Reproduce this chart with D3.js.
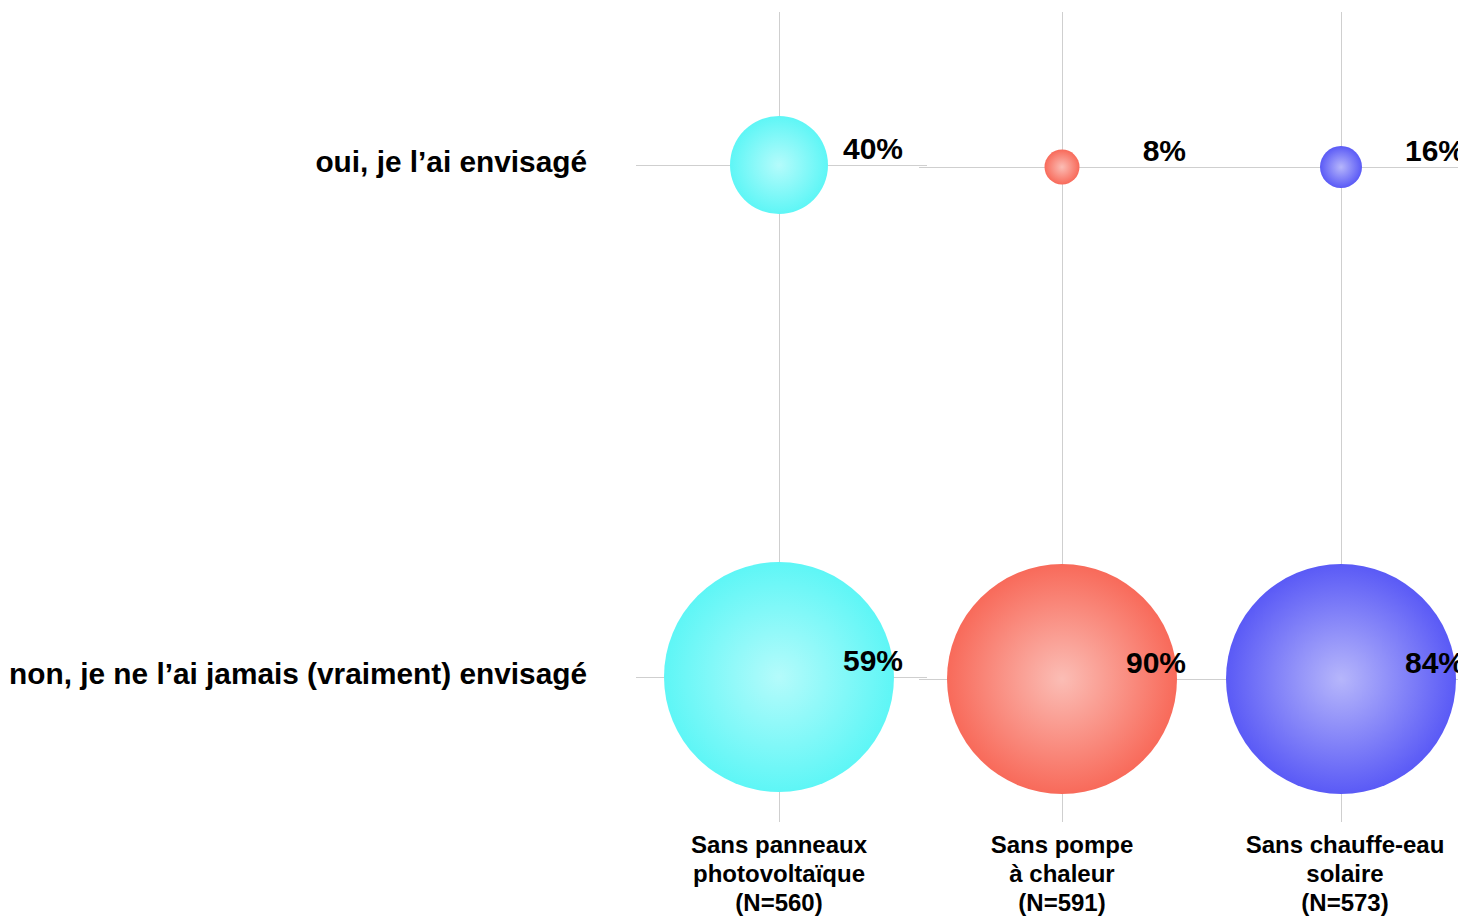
<!DOCTYPE html>
<html><head><meta charset="utf-8">
<script src="https://cdn.jsdelivr.net/npm/d3@7/dist/d3.min.js"></script>
<style>
html,body{margin:0;padding:0;background:#fff;overflow:hidden;}
svg{display:block;font-family:"Liberation Sans",Arial,sans-serif;}
</style></head><body>
<svg id="c" width="1458" height="916"></svg>
<script>
const categories = ["Sans panneaux|photovoltaïque|(N=560)", "Sans pompe|à chaleur|(N=591)", "Sans chauffe-eau|solaire|(N=573)"];
const rowLabels = ["oui, je l’ai envisagé", "non, je ne l’ai jamais (vraiment) envisagé"];
const ouiValues = [40, 8, 16];
const nonValues = [59, 90, 84];
const colors = ["#5ef6f6", "#f86a5a", "#5a5af6"];
const lightColors = ["#b4fbfb", "#fbbdb5", "#b6b6fb"];

const svg = d3.select("#c");
const x = d3.scaleOrdinal().domain(d3.range(categories.length)).range([779, 1062, 1341]);
const y = d3.scalePoint().domain(rowLabels).range([165, 677]);
const colShift = i => (i === 0 ? 0 : 2);
const labelShift = i => (i === 2 ? 4 : 0);
const r = d3.scaleLinear().domain([8, 16, 40, 59, 100]).range([17.5, 21, 49, 115, 115]).clamp(true);

const defs = svg.append("defs");
colors.forEach((c, i) => {
  const g = defs.append("radialGradient").attr("id", "g" + i).attr("cx", "50%").attr("cy", "50%").attr("r", "50%");
  g.append("stop").attr("offset", "0%").attr("stop-color", lightColors[i]);
  g.append("stop").attr("offset", "100%").attr("stop-color", c);
});

const grid = svg.append("g").attr("stroke", "#cfcfcf").attr("stroke-width", 1);
categories.forEach((c, i) => {
  const cx = Math.round(x(i)) + 0.5;
  grid.append("line").attr("x1", cx).attr("x2", cx).attr("y1", 12).attr("y2", 822);
  rowLabels.forEach(rl => {
    const yy = y(rl) + colShift(i) + 0.5;
    grid.append("line").attr("x1", x(i) - 143).attr("x2", x(i) + 148).attr("y1", yy).attr("y2", yy);
  });
});

// row labels
svg.append("g").selectAll("text").data(rowLabels).join("text")
  .attr("x", 587).attr("y", d => y(d) + 7)
  .attr("text-anchor", "end").attr("font-size", 29.8).attr("font-weight", "bold").attr("fill", "#000")
  .text(d => d);

const series = [ouiValues, nonValues];
series.forEach((vals, si) => {
  const rowY = y(rowLabels[si]);
  const g = svg.append("g");
  g.selectAll("circle").data(vals).join("circle")
    .attr("cx", (d, i) => x(i)).attr("cy", (d, i) => rowY + colShift(i))
    .attr("r", d => r(d)).attr("fill", (d, i) => `url(#g${i})`);
  g.selectAll("text").data(vals).join("text")
    .attr("x", (d, i) => x(i) + 124).attr("y", (d, i) => rowY + colShift(i) - 6)
    .attr("text-anchor", "end").attr("font-size", 30).attr("font-weight", "bold").attr("fill", "#000")
    .text(d => d + "%");
});

// category labels
const cl = svg.append("g");
categories.forEach((c, i) => {
  const t = cl.append("text").attr("text-anchor", "middle").attr("font-size", 24).attr("font-weight", "bold").attr("fill", "#000");
  c.split("|").forEach((line, li) => {
    t.append("tspan").attr("x", x(i) + labelShift(i)).attr("y", 853 + li * 29).text(line);
  });
});
</script>
</body></html>
